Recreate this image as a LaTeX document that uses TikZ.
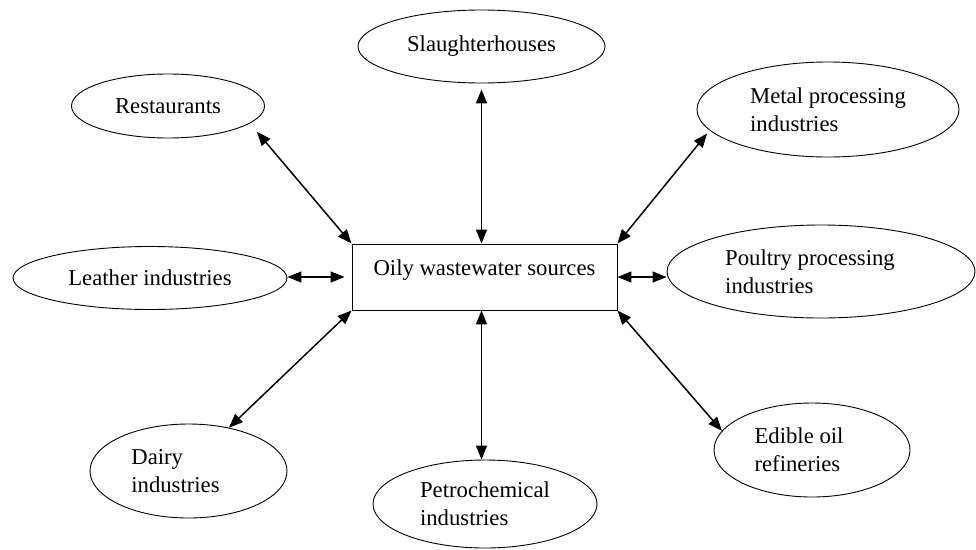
\documentclass[tikz,border=0pt]{standalone}
\usepackage{fontspec}
\setmainfont{Liberation Serif}
\usetikzlibrary{shapes,arrows.meta}
\pgfdeclarelayer{edgelayer}
\pgfdeclarelayer{nodelayer}
\pgfsetlayers{edgelayer,nodelayer,main}
\tikzstyle{hub}=[rectangle, draw=black, line width=0.900, minimum width=265pt, minimum height=66pt, inner sep=0pt, text depth=19.5pt]
\tikzstyle{sector}=[ellipse, draw=black, line width=0.900, inner sep=0pt, align=left]
\tikzstyle{link}=[{Triangle[length=14pt,width=11pt]}-{Triangle[length=14pt,width=11pt]}, draw=black, line width=1.500]

\begin{document}
\begin{tikzpicture}[x=1pt, y=-1pt, font=\fontsize{22.7pt}{28pt}\selectfont]
            \useasboundingbox (0, 0) rectangle (976, 549);
            \begin{pgfonlayer}{nodelayer}
                \node [style=hub] (src) at (484.5, 277) {Oily wastewater sources};

                \node [style=sector, minimum width=247pt, minimum height=73pt] (slau) at (481.5, 46.5) {Slaughterhouses};
                \node [style=sector, minimum width=193pt, minimum height=64pt] (rest) at (168, 106) {Restaurants};
                \node [style=sector, minimum width=262pt, minimum height=95pt] (metl) at (828, 109.5) {Metal processing\\industries};
                \node [style=sector, minimum width=274pt, minimum height=63pt] (leat) at (150, 278) {Leather industries};
                \node [style=sector, minimum width=308pt, minimum height=93pt] (poul) at (821, 271.5) {Poultry processing\hspace*{22pt}\\industries};
                \node [style=sector, minimum width=197pt, minimum height=94pt] (dair) at (188.5, 471) {Dairy\\industries\hspace*{26pt}};
                \node [style=sector, minimum width=224pt, minimum height=88pt] (petr) at (485, 504) {Petrochemical\\industries};
                \node [style=sector, minimum width=196pt, minimum height=94pt] (edib) at (812, 450) {Edible oil\hspace*{26pt}\\refineries};
            \end{pgfonlayer}
            \begin{pgfonlayer}{edgelayer}
                \draw [style=link, shorten <=11pt] (rest.-12) to (src.north west);
                \draw [style=link, shorten <=6pt] (slau.south) to (src.north -| slau.south);
                \draw [style=link, shorten <=4pt] (metl.190) to (src.north east);

                \draw [style=link, shorten >=7pt] (leat.east |- src.west) to (src.west);
                \draw [style=link] (src.east) to (src.east -| poul.west);

                \draw [style=link] (src.south west) to (dair.47);
                \draw [style=link] (src.south -| slau.south) to (petr.north -| slau.south);
                \draw [style=link] (src.south east) to (edib.168);
            \end{pgfonlayer}
        \end{tikzpicture}
\end{document}
